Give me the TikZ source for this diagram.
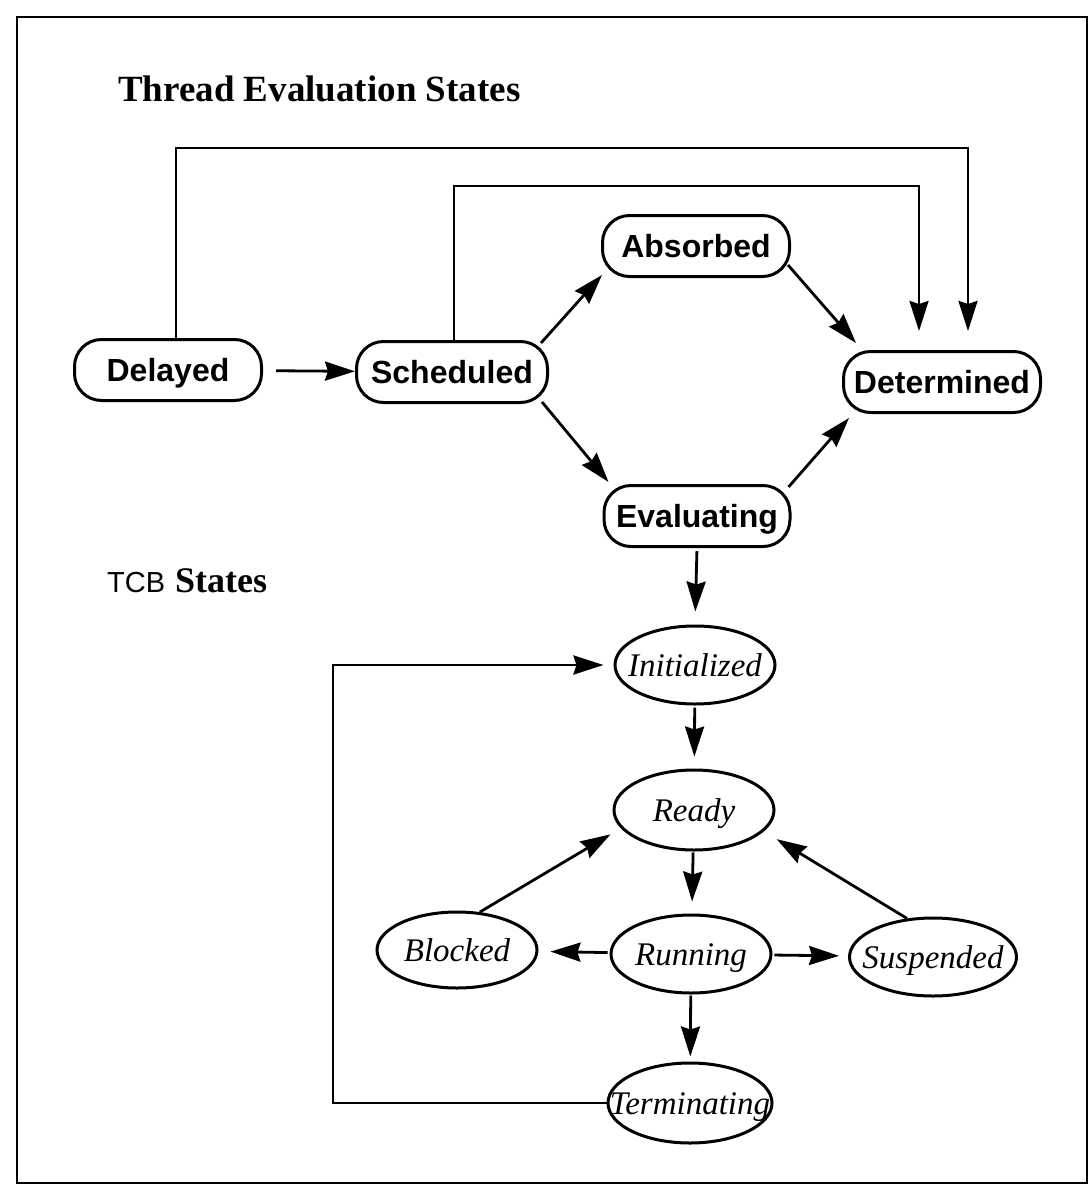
\documentclass[tikz,border=0pt]{standalone}
\usepackage{fontspec}
\setmainfont{Liberation Serif}
\setsansfont{Liberation Sans}
\usetikzlibrary{shapes.geometric,arrows.meta,calc}
% zero-width box: keeps long labels from widening their ellipse
\newcommand\zw[1]{\makebox[0pt]{#1}}

\begin{document}
\begin{tikzpicture}[x=1pt,y=-1pt,
  tes/.style={draw, line width=3pt, rounded corners=27pt, minimum height=61pt,
    inner xsep=5pt, text height=23pt, text depth=0pt,
    font=\sffamily\bfseries\fontsize{32}{38}\selectfont},
  tcb/.style={draw, ellipse, line width=3pt, minimum width=160pt, minimum height=78pt,
    inner sep=0pt, text height=22pt, text depth=0pt,
    font=\itshape\fontsize{33}{40}\selectfont},
  conn/.style={line width=2.8pt, -{Stealth[length=30pt,width=19pt,inset=3pt]}},
  loopline/.style={conn, line width=2.4pt},
  heading/.style={anchor=base west, inner sep=0pt, font=\bfseries\fontsize{37}{42}\selectfont}]

\useasboundingbox (0,0) rectangle (1091,1189);
\draw[line width=2.8pt] (17,17) rectangle (1087,1183);

% headings
\node[heading] (ttl) at (118,101) {Thread Evaluation States};
\node[heading, font=\bfseries\fontsize{36}{42}\selectfont] (tcbh) at (107,592)
  {{\sffamily\mdseries\fontsize{29}{34}\selectfont TCB}\hspace{10pt}States};

% thread evaluation states
\node[tes, minimum width=187pt] (del) at (168,370) {Delayed};
\node[tes, minimum width=191pt] (sch) at (452,372) {Scheduled};
\node[tes, minimum width=187pt] (abs) at (696,246) {Absorbed};
\node[tes, minimum width=197pt] (det) at (942,382) {Determined};
\node[tes, minimum width=186pt] (eva) at (697,516) {Evaluating};

% TCB states
\node[tcb] (init) at (695,665) {\zw{Initialized}};
\node[tcb, minimum height=80pt] (rdy) at (694,810) {\zw{Ready}};
\node[tcb] (run) at (691,954) {\zw{Running}};
\node[tcb, minimum height=76pt] (blk) at (457,950) {\zw{Blocked}};
\node[tcb, minimum width=167pt] (sus) at (933,957) {\zw{Suspended}};
\node[tcb, minimum width=164pt, minimum height=80pt] (term) at (690,1103) {\zw{Terminating}};

% bends of the long connectors
\coordinate (ol) at (176,148);
\coordinate (or) at (968,148);
\coordinate (il) at (454,186);
\coordinate (ir) at (919,186);
\coordinate (tl) at (333,0);

% thread evaluation transitions
\draw[conn, shorten <=13pt] (del) -- (sch);
\draw[conn] ($(sch.north east)+(-8,3)$) -- ($(abs.south west)+(1,-3)$);
\draw[conn] ($(sch.south east)+(-7,-2)$) -- ($(eva.north west)+(6,-2)$);
\draw[conn] ($(abs.south east)+(-3,-13)$) -- ($(det.north west)+(14,-7)$);
\draw[conn] ($(eva.north east)+(-3,3)$) -- ($(det.south west)+(7,4)$);
\draw[loopline, shorten >=19pt] (del.north -| ol) -- (ol) -- (or) -- (or |- det.north);
\draw[loopline, shorten >=19pt] (sch.north -| il) -- (il) -- (ir) -- (ir |- det.north);

% into the TCB states
\draw[conn, shorten <=3pt, shorten >=13pt] (eva.south) -- (init.north);
\draw[conn, shorten <=2pt, shorten >=12pt] (init) -- (rdy);
\draw[conn, shorten <=1pt, shorten >=12pt] (rdy) -- (run);
\draw[conn, shorten <=1pt, shorten >=5pt] (run) -- (term);
\draw[conn, shorten <=2pt, shorten >=12pt] (run) -- (blk);
\draw[conn, shorten <=2pt, shorten >=9pt] (run) -- (sus);
\draw[conn, shorten >=12pt] (blk.59) -- (rdy.194);
\draw[conn, shorten >=15pt] (sus.124) -- (rdy.-17);
\draw[loopline, line width=2.8pt, shorten >=10pt]
  (term.west) -- (term.west -| tl) -- (tl |- init.west) -- (init.west);
\end{tikzpicture}
\end{document}
